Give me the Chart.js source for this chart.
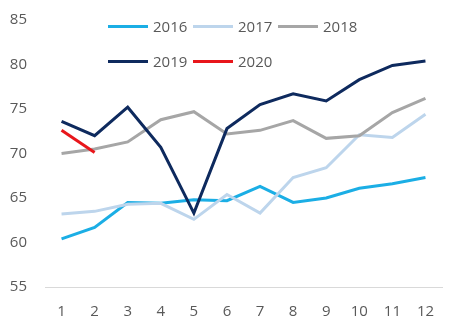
<!DOCTYPE html>
<html>
<head>
<meta charset="utf-8">
<title>Chart</title>
<style>
  html, body { margin: 0; padding: 0; background: #fff; }
  #wrap { position: relative; width: 461px; height: 330px; }
  #legend {
    position: absolute; left: 108px; top: 16px; width: 260px;
    display: grid; grid-template-columns: 85px 85px 85px; row-gap: 15px;
    font-family: "Open Sans", sans-serif; font-size: 15px; color: #595959;
  }
  .item { display: flex; align-items: center; height: 20px; white-space: nowrap; }
  .swatch { display: inline-block; width: 40px; height: 3px; margin-right: 5px; }
</style>
</head>
<body>
<div id="wrap">
  <canvas id="myChart" width="461" height="330"></canvas>
  <div id="legend"></div>
</div>

<script src="https://cdn.jsdelivr.net/npm/chart.js@4/dist/chart.umd.min.js"></script>
<script>
  // months
  var months = ["1", "2", "3", "4", "5", "6", "7", "8", "9", "10", "11", "12"];

  var y2016 = [60.4, 61.7, 64.5, 64.4, 64.8, 64.7, 66.3, 64.5, 65.0, 66.1, 66.6, 67.3];
  var y2017 = [63.2, 63.5, 64.3, 64.4, 62.6, 65.4, 63.3, 67.3, 68.4, 72.1, 71.8, 74.4];
  var y2018 = [70.0, 70.5, 71.3, 73.8, 74.7, 72.2, 72.6, 73.7, 71.7, 72.0, 74.6, 76.2];
  var y2019 = [73.6, 72.0, 75.2, 70.7, 63.3, 72.8, 75.5, 76.7, 75.9, 78.3, 79.9, 80.4];
  var y2020 = [72.6, 70.1];

  var seriesNames = ["2016", "2017", "2018", "2019", "2020"];
  var seriesColors = ["#1BAEE5", "#BDD5EC", "#A6A6A6", "#0E2A5E", "#E8161B"];
  var seriesData = [y2016, y2017, y2018, y2019, y2020];

  var datasets = seriesNames.map(function (name, i) {
    return {
      label: name,
      data: seriesData[i],
      borderColor: seriesColors[i],
      backgroundColor: seriesColors[i],
      borderWidth: 3,
      pointRadius: 0,
      fill: false,
      tension: 0,
      order: seriesNames.length - i
    };
  });

  var font = { family: "'Open Sans', sans-serif", size: 15 };

  var ctx = document.getElementById('myChart').getContext('2d');
  var chart = new Chart(ctx, {
    type: 'line',
    data: { labels: months, datasets: datasets },
    options: {
      responsive: false,
      animation: false,
      layout: { padding: { top: 20, right: 19, bottom: 0, left: 0 } },
      plugins: { legend: { display: false }, tooltip: { enabled: false } },
      scales: {
        x: {
          offset: true,
          grid: { display: false, drawTicks: false },
          border: { display: true, color: '#D9D9D9', width: 1 },
          ticks: { color: '#595959', font: font, padding: 16 },
          afterFit: function (s) { s.height = 43; }
        },
        y: {
          min: 55, max: 85,
          grid: { display: false, drawTicks: false },
          border: { display: false },
          ticks: { stepSize: 5, color: '#595959', font: font, padding: 18 },
          afterFit: function (s) {
            s.width = 45;
            // tick padding is only meant to push the labels sideways
            s.paddingTop = 9;
            s.paddingBottom = 9;
          }
        }
      }
    }
  });

  var legend = document.getElementById('legend');
  chart.data.datasets.forEach(function (ds) {
    var item = document.createElement('div');
    item.className = 'item';
    var sw = document.createElement('span');
    sw.className = 'swatch';
    sw.style.background = ds.borderColor;
    item.appendChild(sw);
    item.appendChild(document.createTextNode(ds.label));
    legend.appendChild(item);
  });
</script>
</body>
</html>
